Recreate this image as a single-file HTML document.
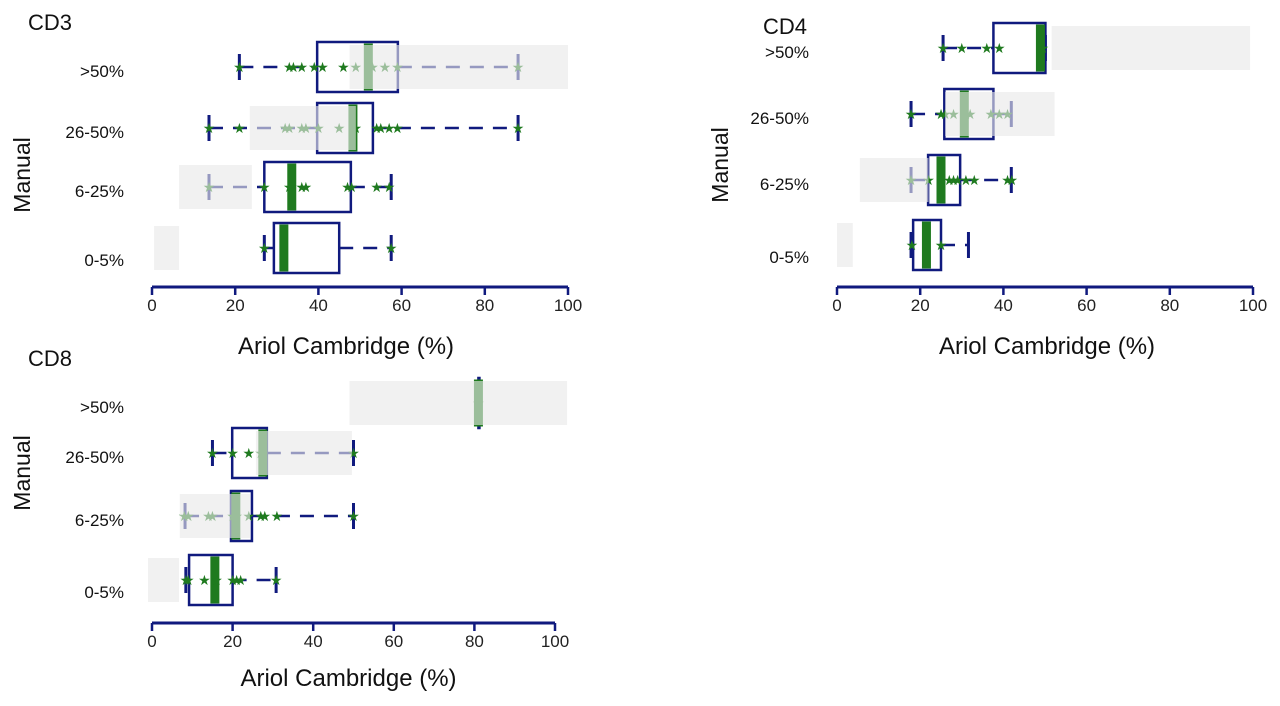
<!DOCTYPE html>
<html><head><meta charset="utf-8"><style>
body{margin:0;background:#fff;width:1280px;height:706px;overflow:hidden}
svg{display:block}
text{font-family:"Liberation Sans Narrow","Liberation Sans",sans-serif}
</style></head><body>
<svg id="chart" width="1280" height="706" viewBox="0 0 1280 706"></svg>
<script>
// Data
const categories = [">50%", "26-50%", "6-25%", "0-5%"];
const xTicks = [0, 20, 40, 60, 80, 100];
// CD3: [whiskerLow, q1, median, q3, whiskerHigh]
const cd3Stats = [[21,39.7,52,59.1,88],[13.7,39.7,48.3,53.1,88],[13.7,27,33.6,47.8,57.5],[27,29.3,31.7,45,57.5]];
const cd3Bands = [[47.5,100],[23.5,49],[6.5,24],[0.5,6.5]];
const cd3Stars = [[21,33,34,36,39,41,46,49,53,56,59,88],[13.7,21,32,33,36,37,40,45,49,54,55,57,59,88],[13.7,27,33,36,37,47,48,54,57],[27,57.5]];
const cd4Stats = [[25.5,37.6,48.9,50.1,50.1],[17.8,25.8,30.6,37.6,41.9],[17.8,21.9,25,29.6,41.9],[17.8,18.3,21.5,25,31.6]];
const cd4Bands = [[51.6,99.3],[26,52.3],[5.5,22],[0,3.8]];
const cd4Stars = [[25.5,30,36,39,49.5],[17.8,25,26,28,31,32,37,39,41],[17.8,22,27,28,29,31,33,41,42],[18,25]];
const cd8Stats = [[81,81,81,81,81],[15,19.9,27.5,28.5,50],[8.2,19.6,20.8,24.8,50],[8.4,9.2,15.6,20,30.8]];
const cd8Bands = [[49,103],[25.8,49.6],[6.9,24.3],[-1,6.7]];
const cd8Stars = [[81],[15,20,24,27,50],[8,9,14,15,20,21,24,27,28,31,50],[8.4,9,13,16,20,21,22,30.8]];

const NS="http://www.w3.org/2000/svg";
const svg=document.getElementById('chart');
function el(tag,attrs,parent,txt){const e=document.createElementNS(NS,tag);for(const k in attrs)e.setAttribute(k,attrs[k]);if(txt!==undefined)e.textContent=txt;(parent||svg).appendChild(e);return e;}
const NAVY="#101a7e",GREEN="#1f7a1f";

const panels=[
 {name:"cd3",title:"CD3",x0:152,x100:568,axisY:287,ys:[67,128,187,248],boxH:50,bandH:44,stats:cd3Stats,bands:cd3Bands,stars:cd3Stars,titleX:28,titleY:30,manualX:30,manualY:175,xTitleY:354,xTitleDx:-14},
 {name:"cd4",title:"CD4",x0:837,x100:1253,axisY:287,ys:[48,114,180,245],boxH:50,bandH:44,stats:cd4Stats,bands:cd4Bands,stars:cd4Stars,titleX:763,titleY:34,manualX:728,manualY:165,xTitleY:354,xTitleDx:2},
 {name:"cd8",title:"CD8",x0:152,x100:555,axisY:623,ys:[403,453,516,580],boxH:50,bandH:44,stats:cd8Stats,bands:cd8Bands,stars:cd8Stars,titleX:28,titleY:366,manualX:30,manualY:473,xTitleY:686,xTitleDx:-5}
];

panels.forEach(p=>{
 const g=el('g',{});
 
 
 const sx=v=>p.x0+(p.x100-p.x0)*v/100;
 const t=el('text',{x:p.titleX,y:p.titleY,'font-size':22,fill:'#111'},g,p.title);
 
 const m=el('text',{x:0,y:0,'font-size':23,fill:'#111','text-anchor':'middle',transform:`translate(${p.manualX},${p.manualY}) rotate(-90)`},g,'Manual');
 
 categories.forEach((c,i)=>{
  const lt=el('text',{x:p.x0-28,y:p.ys[i]+(i==3?18:10),'font-size':17,fill:'#111','text-anchor':'end'},g,c);
  
  const s=p.stats[i],y=p.ys[i],h=p.boxH;
  const grp=el('g',{},g);
  
  el('line',{x1:sx(s[0]),x2:sx(s[1]),y1:y,y2:y,stroke:NAVY,'stroke-width':2.5,'stroke-dasharray':'14,10'},grp);
  el('line',{x1:sx(s[3]),x2:sx(s[4]),y1:y,y2:y,stroke:NAVY,'stroke-width':2.5,'stroke-dasharray':'14,10'},grp);
  el('line',{x1:sx(s[0]),x2:sx(s[0]),y1:y-13,y2:y+13,stroke:NAVY,'stroke-width':3},grp);
  el('line',{x1:sx(s[4]),x2:sx(s[4]),y1:y-13,y2:y+13,stroke:NAVY,'stroke-width':3},grp);
  el('rect',{x:sx(s[1]),y:y-h/2,width:Math.max(sx(s[3])-sx(s[1]),1),height:h,fill:'#fff',stroke:NAVY,'stroke-width':2.5},grp);
  el('rect',{x:sx(s[2])-4.5,y:y-h/2+1.5,width:9,height:h-3,fill:GREEN},grp);
  p.stars[i].forEach(v=>{
   const st=el('text',{x:sx(v),y:y+5,'font-size':14,fill:GREEN,'text-anchor':'middle','font-family':'"DejaVu Sans",sans-serif'},grp,'★');
   
  });
  const b=p.bands[i];
  const band=el('rect',{x:sx(b[0]),y:y-p.bandH/2,width:sx(b[1])-sx(b[0]),height:p.bandH,fill:'rgb(232,232,232)','fill-opacity':0.62},g);
  
 });
 const ax=el('g',{},g);
 
 el('line',{x1:sx(0),x2:sx(100),y1:p.axisY,y2:p.axisY,stroke:NAVY,'stroke-width':3},ax);
 xTicks.forEach(v=>{
  el('line',{x1:sx(v),x2:sx(v),y1:p.axisY,y2:p.axisY+8,stroke:NAVY,'stroke-width':2.5},ax);
  const tl=el('text',{x:sx(v),y:p.axisY+24,'font-size':17,fill:'#222','text-anchor':'middle'},ax,String(v));
  
 });
 const xt=el('text',{x:(sx(0)+sx(100))/2+p.xTitleDx,y:p.xTitleY,'font-size':24,fill:'#111','text-anchor':'middle'},g,'Ariol Cambridge (%)');
 
});
</script>
</body></html>
